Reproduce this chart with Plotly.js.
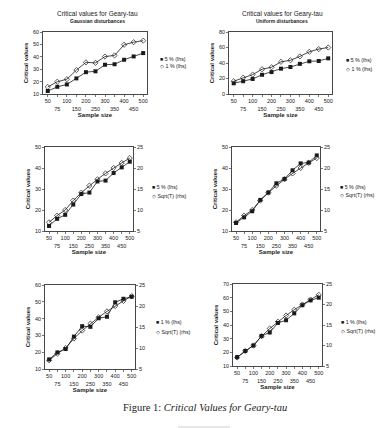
<!DOCTYPE html>
<html>
<head>
<meta charset="utf-8">
<script src="https://cdn.plot.ly/plotly-3.0.1.min.js"></script>
<style>
html,body{margin:0;padding:0;background:#fff;}
#chart{width:388px;height:428px;}
</style>
</head>
<body>
<div id="chart"></div>
<script>
// ---- data ----
var sampleSizes = [50, 75, 100, 150, 200, 250, 300, 350, 400, 450, 500];
var tickLabels = ["50", "<br>75", "100", "<br>150", "200", "<br>250", "300", "<br>350", "400", "<br>450", "500"];
var gauss5 = [12.4, 15.8, 17.7, 22.6, 27.6, 28.3, 33.6, 34.0, 37.6, 40.3, 43.0];
var gauss1 = [15.7, 19.9, 21.9, 29.3, 35.5, 35.1, 40.2, 41.1, 49.7, 51.8, 53.0];
var unif5 = [13.8, 16.5, 19.4, 24.8, 28.3, 32.7, 34.8, 38.9, 42.2, 42.6, 46.0];
var unif1 = [16.5, 21.0, 25.0, 32.0, 34.5, 41.5, 43.5, 48.5, 54.5, 58.0, 60.0];
var sqrtT = [7.07, 8.66, 10.0, 12.25, 14.14, 15.81, 17.32, 18.71, 20.0, 21.21, 22.36];
var seriesNames = ["5 % (lhs)", "1 % (lhs)", "Sqrt(T) (rhs)"];
var panelTitle = "Critical values for Geary-tau";
var subTitles = ["Gaussian disturbances", "Uniform disturbances"];
var yTitle = "Critical values";
var xTitle = "Sample size";
var caption = "Figure 1: <i>Critical Values for Geary-tau</i>";

// ---- helpers ----
var W = 388, H = 428;
function px(x){ return x / W; }
function py(y){ return 1 - y / H; }
var FONT = "Liberation Sans, Arial, sans-serif";
var INK = "#1a1a1a";

function xAxis(x0, x1, y0, y1, anchor){
  return {
    domain: [px(x0), px(x1)], anchor: anchor, type: "category",
    range: [-0.5, 10.4], tickmode: "array", tickvals: sampleSizes, ticktext: tickLabels,
    tickfont: {size: 5.5, family: FONT, color: INK}, tickangle: 0,
    showline: true, mirror: true, linecolor: INK, linewidth: 0.8,
    ticks: "outside", ticklen: 2, tickwidth: 0.6, tickcolor: INK,
    showgrid: false, zeroline: false, automargin: false, fixedrange: true,
    title: {text: "<b>" + xTitle + "</b>", font: {size: 6, family: FONT, color: INK}, standoff: 1}
  };
}
function yAxis(y0, y1, range, dtick, anchor, showTitle){
  var a = {
    domain: [py(y1), py(y0)], anchor: anchor, range: range, dtick: dtick, tick0: 0,
    tickfont: {size: 5.5, family: FONT, color: INK},
    showline: true, linecolor: INK, linewidth: 0.8,
    ticks: "outside", ticklen: 2, tickwidth: 0.6, tickcolor: INK,
    showgrid: false, zeroline: false, automargin: false, fixedrange: true
  };
  if (showTitle) a.title = {text: "<b>" + yTitle + "</b>", font: {size: 6, family: FONT, color: INK}, standoff: 3};
  return a;
}
function rAxis(range, dtick, anchor, overlay){
  return {
    overlaying: overlay, side: "right", anchor: anchor, range: range, dtick: dtick, tick0: 0,
    tickfont: {size: 5.5, family: FONT, color: INK},
    showline: true, linecolor: INK, linewidth: 0.8,
    ticks: "outside", ticklen: 2, tickwidth: 0.6, tickcolor: INK,
    showgrid: false, zeroline: false, automargin: false, fixedrange: true
  };
}
function solid(y, xa, ya){
  return {x: sampleSizes, y: y, xaxis: xa, yaxis: ya, type: "scatter", mode: "lines+markers",
    line: {color: INK, width: 0.8}, marker: {symbol: "square", size: 4, color: INK}, showlegend: false, hoverinfo: "skip"};
}
function hollow(y, xa, ya){
  return {x: sampleSizes, y: y, xaxis: xa, yaxis: ya, type: "scatter", mode: "lines+markers",
    line: {color: INK, width: 0.8}, marker: {symbol: "diamond-open", size: 4, color: INK, line: {width: 0.7, color: INK}}, showlegend: false, hoverinfo: "skip"};
}

// panels (pixel boxes)
var P = [
  [43, 147, 32, 94],
  [229, 332, 32, 94],
  [45, 133, 147, 231],
  [232, 320, 147, 231],
  [45, 135, 285, 369],
  [233, 322, 284, 366]
];

var data = [
  solid(gauss5, "x", "y"), hollow(gauss1, "x", "y"),
  solid(unif5, "x2", "y2"), hollow(unif1, "x2", "y2"),
  solid(gauss5, "x3", "y3"), hollow(sqrtT, "x3", "y4"),
  solid(unif5, "x4", "y5"), hollow(sqrtT, "x4", "y6"),
  solid(gauss1, "x5", "y7"), hollow(sqrtT, "x5", "y8"),
  solid(unif1, "x6", "y9"), hollow(sqrtT, "x6", "y10")
];

var layout = {
  width: W, height: H, margin: {l: 0, r: 0, t: 0, b: 0},
  paper_bgcolor: "#fff", plot_bgcolor: "#fff", showlegend: false,
  font: {family: FONT, color: INK},
  xaxis: xAxis(P[0][0], P[0][1], P[0][2], P[0][3], "y"),
  yaxis: Object.assign(yAxis(P[0][2], P[0][3], [10, 60], 10, "x", true), {mirror: true}),
  xaxis2: xAxis(P[1][0], P[1][1], P[1][2], P[1][3], "y2"),
  yaxis2: Object.assign(yAxis(P[1][2], P[1][3], [0, 80], 20, "x2", true), {mirror: true}),
  xaxis3: xAxis(P[2][0], P[2][1], P[2][2], P[2][3], "y3"),
  yaxis3: yAxis(P[2][2], P[2][3], [10, 50], 10, "x3", true),
  yaxis4: rAxis([5, 25], 5, "x3", "y3"),
  xaxis4: xAxis(P[3][0], P[3][1], P[3][2], P[3][3], "y5"),
  yaxis5: yAxis(P[3][2], P[3][3], [10, 50], 10, "x4", true),
  yaxis6: rAxis([5, 25], 5, "x4", "y5"),
  xaxis5: xAxis(P[4][0], P[4][1], P[4][2], P[4][3], "y7"),
  yaxis7: yAxis(P[4][2], P[4][3], [10, 60], 10, "x5", true),
  yaxis8: rAxis([5, 25], 5, "x5", "y7"),
  xaxis6: xAxis(P[5][0], P[5][1], P[5][2], P[5][3], "y9"),
  yaxis9: yAxis(P[5][2], P[5][3], [10, 70], 10, "x6", true),
  yaxis10: rAxis([5, 25], 5, "x6", "y9"),
  annotations: [],
  shapes: [
    {type: "line", xref: "paper", yref: "paper", x0: px(178), x1: px(230), y0: py(427), y1: py(427), line: {color: "#d0d0d0", width: 1}}
  ]
};

// titles of top panels
function addText(t, x, y, size, opts){
  var a = {xref: "paper", yref: "paper", x: px(x), y: py(y), text: t, showarrow: false,
    xanchor: "center", yanchor: "middle", font: {size: size, family: FONT, color: INK}};
  if (opts) Object.assign(a, opts);
  layout.annotations.push(a);
}
addText(panelTitle, 97, 14, 6.5);
addText("<b>" + subTitles[0] + "</b>", 97, 21, 5);
addText(panelTitle, 282, 14, 6.5);
addText("<b>" + subTitles[1] + "</b>", 282, 21, 5);

// legends (marker glyph + label)
var legendPos = [
  [158, 59, 66, 0, 1],
  [344, 60, 69, 0, 1],
  [150, 187, 196, 0, 2],
  [338, 187, 195, 0, 2],
  [154, 322, 332, 1, 2],
  [339, 322, 331, 1, 2]
];
legendPos.forEach(function(L){
  addText("■ " + seriesNames[L[3]], L[0], L[1], 5.3, {xanchor: "left"});
  addText("◇ " + seriesNames[L[4]], L[0], L[2], 5.3, {xanchor: "left"});
});

// caption
layout.annotations.push({xref: "paper", yref: "paper", x: px(205), y: py(407), text: caption, showarrow: false,
  xanchor: "center", yanchor: "middle", font: {size: 10.5, family: "Liberation Serif, DejaVu Serif, serif", color: "#222"}});

Plotly.newPlot("chart", data, layout, {displayModeBar: false, staticPlot: true});
</script>
</body>
</html>
